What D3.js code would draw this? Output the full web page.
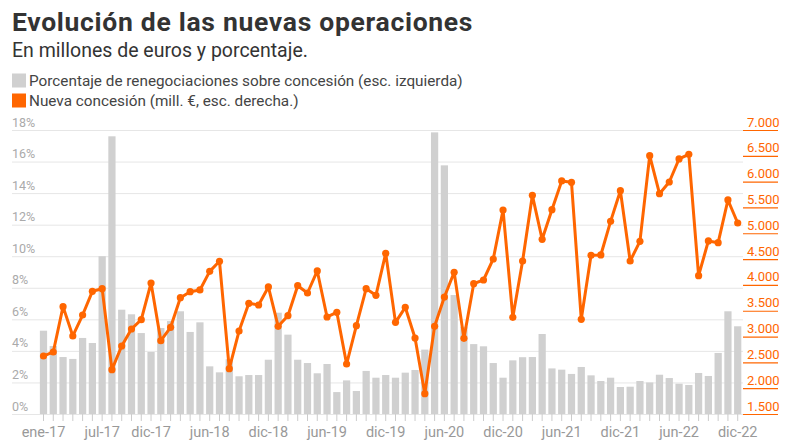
<!DOCTYPE html>
<html>
<head>
<meta charset="utf-8">
<script src="https://cdn.jsdelivr.net/npm/d3@7"></script>
<style>
  body { margin: 0; background: #fff; font-family: Roboto, sans-serif; }
  svg text { font-family: Roboto, sans-serif; }
</style>
</head>
<body>
<svg id="chart" width="800" height="443"></svg>
<script>
// month names and years used to build the category labels
const monthNames = ['ene', 'feb', 'mar', 'abr', 'may', 'jun', 'jul', 'ago', 'sep', 'oct', 'nov', 'dic'];
const years = ['17', '18', '19', '20', '21', '22'];
const categories = years.flatMap(y => monthNames.map(m => m + '-' + y));

// % renegotiations over new lending (left axis)
const renegPct = [
  5.28, 4.31, 3.61, 3.49, 4.82, 4.50, 10.0, 17.6, 6.61, 6.32, 5.13, 3.93,
  5.45, 5.89, 6.51, 5.20, 5.81, 3.02, 2.64, 3.47, 2.39, 2.47, 2.47, 3.44,
  6.42, 5.03, 3.44, 3.23, 2.58, 3.17, 1.39, 2.13, 1.46, 2.73, 2.30, 2.47,
  2.30, 2.62, 2.79, 4.08, 17.85, 15.76, 7.54, 5.53, 4.43, 4.29, 3.23, 2.30,
  3.40, 3.60, 3.61, 5.07, 2.89, 2.81, 2.54, 2.98, 2.45, 2.09, 2.30, 1.71,
  1.73, 2.09, 2.00, 2.49, 2.28, 1.92, 1.84, 2.60, 2.41, 3.87, 6.51, 5.56
];

// new lending, millions of euros (right axis)
const newLending = [
  2623, 2701, 3579, 3011, 3417, 3876, 3927, 2359, 2817, 3146, 3327, 4037,
  2920, 3179, 3753, 3869, 3902, 4263, 4457, 2378, 3107, 3643, 3611, 3960,
  3198, 3404, 3985, 3843, 4270, 3379, 3469, 2468, 3211, 3927, 3798, 4612,
  3275, 3566, 2972, 1894, 3198, 3766, 4244, 2965, 4024, 4095, 4502, 5451,
  3372, 4463, 5735, 4883, 5457, 6013, 5987, 3333, 4573, 4580, 5231, 5825,
  4463, 4844, 6503, 5767, 5993, 6439, 6529, 4179, 4851, 4818, 5645, 5199
];

const xTickLabels = ['ene-17', 'jul-17', 'dic-17', 'jun-18', 'dic-18', 'jun-19', 'dic-19',
  'jun-20', 'dic-20', 'jun-21', 'dic-21', 'jun-22', 'dic-22'];
const leftTicks = [0, 2, 4, 6, 8, 10, 12, 14, 16, 18];
const rightTicks = [1500, 2000, 2500, 3000, 3500, 4000, 4500, 5000, 5500, 6000, 6500, 7000];

const gray = '#d0d0d0';
const orange = '#ff6600';

const svg = d3.select('#chart');

// plot area
const plotLeft = 12, plotRight = 743, plotTop = 130, plotBottom = 414;

const x = d3.scaleBand()
  .domain(categories)
  .range([38.6, 742.6])
  .paddingInner(0.26)
  .paddingOuter(0.13);

const yL = d3.scaleLinear().domain([0, 18]).range([plotBottom, plotTop]);
const yR = d3.scaleLinear().domain([1500, 7000]).range([plotBottom, plotTop]);

// title, subtitle, legend
svg.append('text')
  .attr('x', 12).attr('y', 31)
  .attr('font-size', 26.5).attr('font-weight', 700)
  .attr('letter-spacing', 0.7)
  .attr('fill', '#333')
  .text('Evolución de las nuevas operaciones');

svg.append('text')
  .attr('x', 12).attr('y', 57)
  .attr('font-size', 19.5)
  .attr('fill', '#333')
  .text('En millones de euros y porcentaje.');

const legendItems = [
  {label: 'Porcentaje de renegociaciones sobre concesión (esc. izquierda)', color: gray},
  {label: 'Nueva concesión (mill. €, esc. derecha.)', color: orange}
];
const legend = svg.selectAll('g.legend')
  .data(legendItems)
  .join('g')
  .attr('class', 'legend')
  .attr('transform', (d, i) => 'translate(12,' + (73.5 + i * 20) + ')');
legend.append('rect')
  .attr('width', 14).attr('height', 14)
  .attr('fill', d => d.color);
legend.append('text')
  .attr('x', 17).attr('y', 12.5)
  .attr('font-size', 15.3)
  .attr('fill', '#444')
  .text(d => d.label);

// left axis: gridlines with labels sitting above them
const gL = svg.append('g')
  .attr('transform', 'translate(' + plotLeft + ',0)')
  .call(d3.axisRight(yL).tickValues(leftTicks).tickSize(plotRight - plotLeft).tickFormat(d => d + '%'));
gL.select('.domain').remove();
gL.selectAll('.tick line').attr('stroke', '#e6e6e6');
gL.selectAll('.tick text')
  .attr('x', 0).attr('dy', -4)
  .attr('text-anchor', 'start')
  .attr('font-size', 12.5)
  .attr('fill', '#aaa');

// right axis: orange underlines with labels above
const gR = svg.append('g')
  .attr('transform', 'translate(' + plotRight + ',0)')
  .call(d3.axisRight(yR).tickValues(rightTicks).tickSize(35)
    .tickFormat(d => d3.format(',')(d).replace(',', '.')));
gR.select('.domain').remove();
gR.selectAll('.tick line').attr('stroke', orange).attr('stroke-width', 1.2);
gR.selectAll('.tick text')
  .attr('x', 4).attr('dy', -4)
  .attr('text-anchor', 'start')
  .attr('font-size', 13)
  .attr('fill', orange);

// bars
svg.append('g')
  .selectAll('rect')
  .data(renegPct)
  .join('rect')
  .attr('x', (d, i) => x(categories[i]))
  .attr('y', d => yL(d))
  .attr('width', x.bandwidth())
  .attr('height', d => plotBottom - yL(d))
  .attr('fill', gray);

// x axis: small tick per month, labels every six months
const gX = svg.append('g')
  .attr('transform', 'translate(0,' + plotBottom + ')')
  .call(d3.axisBottom(x).tickSize(7).tickPadding(6)
    .tickFormat(d => xTickLabels.includes(d) ? d : ''));
gX.select('.domain').remove();
gX.selectAll('.tick line').attr('stroke', '#ccc');
gX.selectAll('.tick text')
  .attr('font-size', 14.5)
  .attr('fill', '#999');

// line + points
const cx = i => x(categories[i]) + x.bandwidth() / 2;
const line = d3.line()
  .x((d, i) => cx(i))
  .y(d => yR(d));

svg.append('path')
  .datum(newLending)
  .attr('d', line)
  .attr('fill', 'none')
  .attr('stroke', orange)
  .attr('stroke-width', 3)
  .attr('stroke-linejoin', 'round');

svg.append('g')
  .selectAll('circle')
  .data(newLending)
  .join('circle')
  .attr('cx', (d, i) => cx(i))
  .attr('cy', d => yR(d))
  .attr('r', 3.6)
  .attr('fill', orange);
</script>
</body>
</html>
